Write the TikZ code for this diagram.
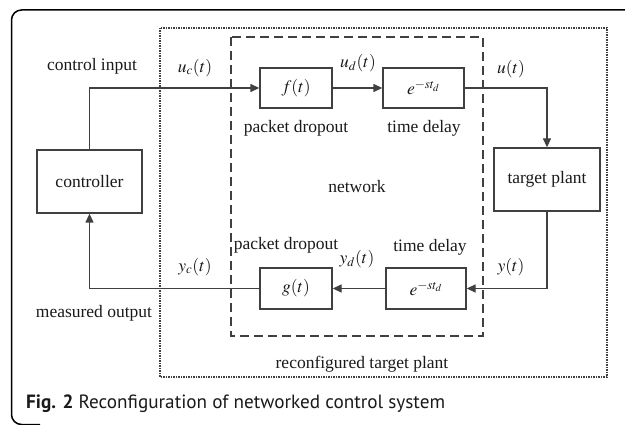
\documentclass[tikz,border=0pt]{standalone}
\usepackage{mathptmx}
\usepackage{fontspec}
\setmainfont{Liberation Serif}
\newfontfamily\capfont{PT Sans}
\usetikzlibrary{arrows.meta}
\definecolor{linec}{HTML}{404040}
\definecolor{txtc}{HTML}{1A1A1A}
\begin{document}
\begin{tikzpicture}[x=1pt,y=-1pt,
  font=\fontsize{17.5}{21}\selectfont,
  every node/.style={text=txtc},
  blk/.style={draw=linec, line width=1.3pt, inner sep=0pt, fill=white},
  lbl/.style={inner sep=0pt},
  conn/.style={draw=linec, line width=1.3pt},
  arr/.style={conn, -{Triangle[length=9pt,width=8pt]}}
]
\useasboundingbox (0,0) rectangle (625,425);
% outer frame
\draw[line width=1.5pt, rounded corners=10pt] (640,10) -- (11.5,10) -- (11.5,424.5) -- (40,424.5);
% reconfigured target plant (dotted)
\draw[linec, line width=1.3pt, dash pattern=on 1.3pt off 1.2pt] (160,28) rectangle (607,377);
% network (dashed)
\draw[linec, line width=1.3pt, dash pattern=on 9pt off 5pt] (231,37) rectangle (483,336);
% blocks
\node[blk, minimum width=105pt, minimum height=63pt] (ctrl) at (89.5,181.5) {controller};
\node[blk, minimum width=72pt, minimum height=40pt] (f) at (296,88) {$f(t)$};
\node[blk, minimum width=81pt, minimum height=40pt] (etop) at (423.5,88) {$e^{-st_d}$};
\node[blk, minimum width=106pt, minimum height=63pt] (plant) at (547,179.5) {target plant};
\node[blk, minimum width=72pt, minimum height=41pt] (g) at (296,288.5) {$g(t)$};
\node[blk, minimum width=80pt, minimum height=41pt] (ebot) at (426,288.5) {$e^{-st_d}$};
% connectors
\draw[arr] (ctrl.north) |- (f.west);
\draw[arr] (f.east) -- (etop.west);
\draw[arr] (etop.east) -| (plant.north);
\draw[arr] (plant.south) |- (ebot.east);
\draw[arr] (ebot.west) -- (g.east);
\draw[arr] (g.west) -| (ctrl.south);
% labels
\node[lbl] (l1) at (92,66) {control input};
\node[lbl] (l2) at (195,68) {$u_c(t)$};
\node[lbl] (l3) at (296,128) {packet dropout};
\node[lbl] (l4) at (358,63) {$u_d(t)$};
\node[lbl] (l5) at (424,128) {time delay};
\node[lbl] (l6) at (511,69) {$u(t)$};
\node[lbl] (l7) at (357,187) {network};
\node[lbl] (l8) at (286,245) {packet dropout};
\node[lbl] (l9) at (430,247) {time delay};
\node[lbl] (l10) at (357,259) {$y_d(t)$};
\node[lbl] (l11) at (511,267) {$y(t)$};
\node[lbl] (l12) at (195,267) {$y_c(t)$};
\node[lbl] (l13) at (94,313) {measured output};
\node[lbl] (l14) at (362,364) {reconfigured target plant};
\node[lbl, anchor=west, font=\capfont\fontsize{19.2}{23}\selectfont] (cap) at (26,404) {\textbf{Fig. 2} Reconfiguration of networked control system};
\end{tikzpicture}
\end{document}
